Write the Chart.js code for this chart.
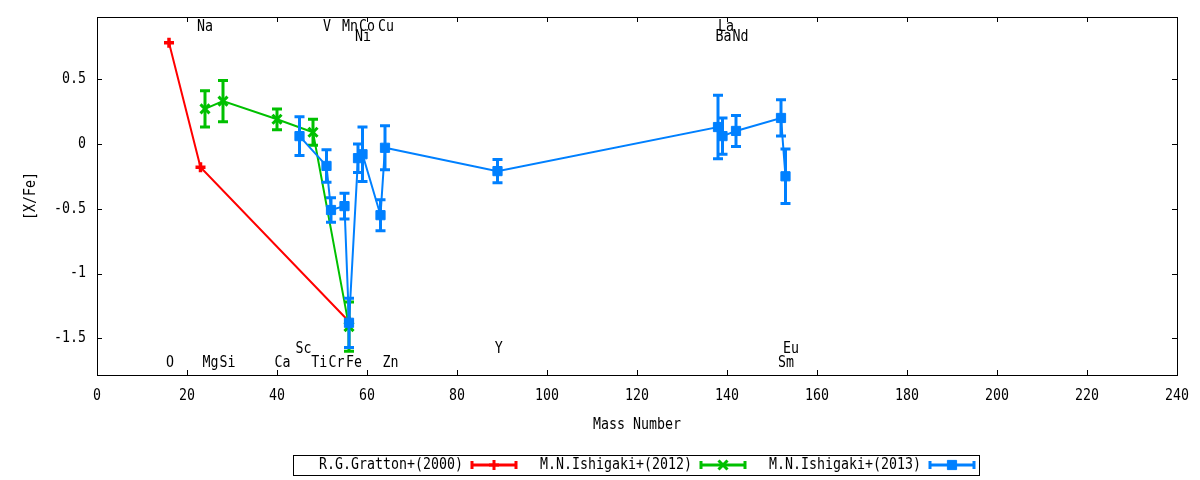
<!DOCTYPE html>
<html>
<head>
<meta charset="utf-8">
<script src="https://cdn.jsdelivr.net/npm/chart.js@4.4.1/dist/chart.umd.min.js"></script>
<style>
  html, body { margin: 0; padding: 0; background: #fff; }
  #wrap { width: 1200px; height: 480px; position: relative; }
</style>
</head>
<body>
<div id="wrap"><canvas id="chart"></canvas></div>
<script>
// R.G.Gratton+(2000)
const grattonMass = [16, 23, 56];
const grattonVal = [0.78, -0.18, -1.37];
const grattonErr = [0, 0, 0];

// M.N.Ishigaki+(2012)
const ishi12Mass = [24, 28, 40, 48, 56];
const ishi12Val = [0.27, 0.33, 0.19, 0.09, -1.41];
const ishi12Err = [0.14, 0.16, 0.08, 0.10, 0.19];

// M.N.Ishigaki+(2013)
const ishi13Mass = [45, 51, 52, 55, 56, 58, 59, 63, 64, 89, 138, 139, 142, 152, 153];
const ishi13Val = [0.06, -0.17, -0.51, -0.48, -1.38, -0.11, -0.08, -0.55, -0.03, -0.21, 0.13, 0.06, 0.10, 0.20, -0.25];
const ishi13Err = [0.15, 0.125, 0.095, 0.10, 0.19, 0.11, 0.21, 0.12, 0.17, 0.09, 0.245, 0.14, 0.12, 0.14, 0.21];

// element names written inside the plot (x = mass, y = [X/Fe] level)
const elemNames = ['Na', 'V', 'Mn', 'Co', 'Cu', 'La', 'Ni', 'Ba', 'Nd',
                   'Sc', 'Y', 'Eu', 'O', 'Mg', 'Si', 'Ca', 'Ti', 'Cr', 'Fe', 'Zn', 'Sm'];
const elemX = [24.0, 51.1, 56.2, 60.0, 64.2, 139.8, 59.1, 139.2, 143.0,
               45.9, 89.3, 154.2, 16.2, 25.2, 29.0, 41.2, 49.4, 53.2, 57.1, 65.2, 153.1];
const elemY = [0.90, 0.90, 0.90, 0.90, 0.90, 0.90, 0.82, 0.82, 0.82,
               -1.585, -1.585, -1.585, -1.69, -1.69, -1.69, -1.69, -1.69, -1.69, -1.69, -1.69, -1.69];

const xTicks = [0, 20, 40, 60, 80, 100, 120, 140, 160, 180, 200, 220, 240];
const yTicks = [0.5, 0, -0.5, -1, -1.5];
const yTickLabels = ['0.5', '0', '-0.5', '-1', '-1.5'];

const seriesNames = ['R.G.Gratton+(2000)', 'M.N.Ishigaki+(2012)', 'M.N.Ishigaki+(2013)'];
const RED = '#ff0000', GREEN = '#00c000', BLUE = '#0080ff';

const FONT = '15px "DejaVu Sans Mono"';
const SQUEEZE = 0.886;

function toPoints(xs, ys) {
    return xs.map((x, i) => ({ x: x, y: ys[i] }));
}

function squeezedText(ctx, str, x, y, align, angle) {
    ctx.save();
    ctx.translate(x, y);
    if (angle) ctx.rotate(angle);
    ctx.scale(SQUEEZE, 1);
    ctx.font = FONT;
    ctx.fillStyle = '#000';
    ctx.textAlign = align || 'center';
    ctx.textBaseline = 'middle';
    ctx.fillText(str, 0, 0);
    ctx.restore();
}

// vertical error bars with caps, drawn with each dataset
const errorBars = {
    id: 'errorBars',
    afterDatasetDraw(chart, args) {
        const ds = chart.data.datasets[args.index];
        if (!ds.errors) return;
        const ctx = chart.ctx;
        const xs = chart.scales.x, ys = chart.scales.y;
        ctx.save();
        ctx.strokeStyle = ds.borderColor;
        ctx.lineWidth = 3;
        ds.data.forEach((p, i) => {
            const e = ds.errors[i];
            if (!e) return;
            const px = xs.getPixelForValue(p.x);
            const top = ys.getPixelForValue(p.y + e);
            const bot = ys.getPixelForValue(p.y - e);
            ctx.beginPath();
            ctx.moveTo(px, top); ctx.lineTo(px, bot);
            ctx.moveTo(px - 5, top); ctx.lineTo(px + 5, top);
            ctx.moveTo(px - 5, bot); ctx.lineTo(px + 5, bot);
            ctx.stroke();
        });
        ctx.restore();
    }
};

// frame, inward ticks, all texts and the key
const frame = {
    id: 'frame',
    afterDraw(chart) {
        const ctx = chart.ctx;
        const a = chart.chartArea;
        const xs = chart.scales.x, ys = chart.scales.y;
        ctx.save();
        ctx.strokeStyle = '#000';
        ctx.lineWidth = 1;
        ctx.beginPath();
        xTicks.forEach(v => {
            const px = Math.round(xs.getPixelForValue(v)) + 0.5;
            ctx.moveTo(px, a.bottom); ctx.lineTo(px, a.bottom - 5);
            ctx.moveTo(px, a.top); ctx.lineTo(px, a.top + 5);
        });
        yTicks.forEach(v => {
            const py = Math.round(ys.getPixelForValue(v)) + 0.5;
            ctx.moveTo(a.left, py); ctx.lineTo(a.left + 5, py);
            ctx.moveTo(a.right, py); ctx.lineTo(a.right - 5, py);
        });
        ctx.stroke();
        ctx.strokeRect(a.left + 0.5, a.top + 0.5, a.right - a.left, a.bottom - a.top);
        ctx.restore();

        xTicks.forEach(v => squeezedText(ctx, String(v), xs.getPixelForValue(v), 396, 'center'));
        yTicks.forEach((v, i) => squeezedText(ctx, yTickLabels[i], 86, ys.getPixelForValue(v), 'right'));
        squeezedText(ctx, 'Mass Number', (a.left + a.right) / 2, 425, 'center');
        squeezedText(ctx, '[X/Fe]', 31, (a.top + a.bottom) / 2, 'center', -Math.PI / 2);

        elemNames.forEach((n, i) => {
            squeezedText(ctx, n, xs.getPixelForValue(elemX[i]), ys.getPixelForValue(elemY[i]), 'center');
        });

        // key
        ctx.save();
        ctx.strokeStyle = '#000';
        ctx.lineWidth = 1;
        ctx.strokeRect(293.5, 455.5, 686, 20);
        ctx.restore();
        const textRight = [463, 692, 921];
        const colors = [RED, GREEN, BLUE];
        const styles = ['cross', 'crossRot', 'rect'];
        const radii = [5, 6.4, 6.5];
        seriesNames.forEach((name, i) => {
            const y = 465;
            squeezedText(ctx, name, textRight[i], y, 'right');
            const x0 = textRight[i] + 9, x1 = x0 + 44;
            ctx.save();
            ctx.strokeStyle = colors[i];
            ctx.lineWidth = 3;
            ctx.beginPath();
            ctx.moveTo(x0, y); ctx.lineTo(x1, y);
            ctx.moveTo(x0, y - 4); ctx.lineTo(x0, y + 4);
            ctx.moveTo(x1, y - 4); ctx.lineTo(x1, y + 4);
            ctx.stroke();
            ctx.fillStyle = colors[i];
            ctx.lineWidth = i === 2 ? 1 : 3;
            Chart.helpers.drawPoint(ctx, { pointStyle: styles[i], radius: radii[i], borderWidth: ctx.lineWidth }, (x0 + x1) / 2, y);
            ctx.restore();
        });
    }
};

function initializeChart() {
    const ctx = document.getElementById('chart').getContext('2d');
    new Chart(ctx, {
        type: 'line',
        data: {
            datasets: [{
                label: seriesNames[0],
                data: toPoints(grattonMass, grattonVal),
                errors: grattonErr,
                borderColor: RED,
                backgroundColor: RED,
                borderWidth: 2,
                pointStyle: 'cross',
                pointRadius: 5,
                pointBorderWidth: 3.5,
                order: 2
            }, {
                label: seriesNames[1],
                data: toPoints(ishi12Mass, ishi12Val),
                errors: ishi12Err,
                borderColor: GREEN,
                backgroundColor: GREEN,
                borderWidth: 2,
                pointStyle: 'crossRot',
                pointRadius: 6.4,
                pointBorderWidth: 3,
                order: 1
            }, {
                label: seriesNames[2],
                data: toPoints(ishi13Mass, ishi13Val),
                errors: ishi13Err,
                borderColor: BLUE,
                backgroundColor: BLUE,
                borderWidth: 2,
                pointStyle: 'rect',
                pointRadius: 6.5,
                pointBorderWidth: 1,
                order: 0
            }]
        },
        options: {
            responsive: true,
            maintainAspectRatio: false,
            animation: false,
            devicePixelRatio: 1,
            elements: { line: { tension: 0 } },
            layout: { padding: { left: 97, right: 23, top: 17, bottom: 105 } },
            plugins: {
                legend: { display: false },
                tooltip: { enabled: false }
            },
            scales: {
                x: { type: 'linear', min: 0, max: 240, display: false },
                y: { type: 'linear', min: -1.783, max: 0.979, display: false }
            }
        },
        plugins: [errorBars, frame]
    });
}

document.addEventListener('DOMContentLoaded', initializeChart);
</script>
</body>
</html>
